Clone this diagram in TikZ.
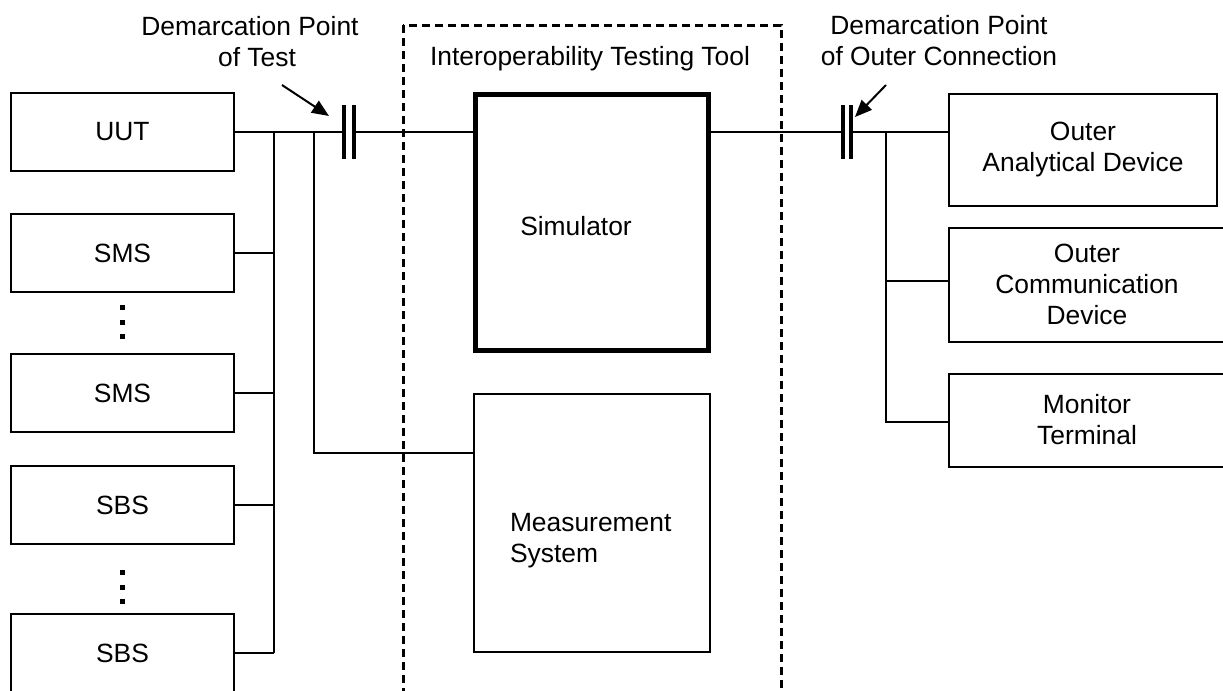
\documentclass[tikz,border=0pt]{standalone}
\usepackage{fontspec}
\setmainfont{Liberation Sans}
\usetikzlibrary{arrows.meta}
\tikzset{
  unit/.style={draw,line width=1pt,minimum width=111.5pt,minimum height=39pt,inner sep=0pt},
  device/.style={draw,line width=1pt,align=center,inner sep=0pt},
  txt/.style={inner sep=0pt,align=center},
  plate/.style={line width=2pt},
  pointer/.style={-{Triangle[length=8.5pt,width=7pt]},line width=1pt},
  frame/.style={line width=1.5pt,dash pattern=on 4pt off 2.5pt}
}

\begin{document}
\begin{tikzpicture}[x=0.5pt,y=-0.5pt,line width=1pt,font=\fontsize{13.2}{15.5}\selectfont]
  \clip (0,0) rectangle (1223,691);

  %units under test, left side
  \node[unit] (uut) at (122.5,132) {UUT};
  \node[unit] (sms1) at (122.5,253) {SMS};
  \node[unit] (sms2) at (122.5,393) {SMS};
  \node[unit] (sbs1) at (122.5,505) {SBS};
  \node[unit] (sbs2) at (122.5,653) {SBS};
  \foreach \y in {307,322,336,572,587,601} {
    \fill (119.5,\y-2.5) rectangle (124.5,\y+2.5);
  }

  %testing tool frame
  \draw[frame] (403,25) rectangle (781,720);
  \node[txt] (ittlabel) at (590,59) {Interoperability Testing Tool};
  \node[draw,line width=2.5pt,minimum width=116.5pt,minimum height=128pt,inner sep=0pt] (sim) at (592,222.5) {};
  \node[txt] (simlabel) at (576,226) {Simulator};
  \node[draw,minimum width=118pt,minimum height=129pt,inner sep=0pt] (meas) at (592,523) {};
  \node[txt,anchor=west,align=left] (measlabel) at (509,541) {Measurement\\System};

  %outer devices, right side
  \node[device,minimum width=134pt,minimum height=56pt] (oad) at (1083,149.5) {Outer\\Analytical Device};
  \node[device,minimum width=138pt,minimum height=57pt] (ocd) at (1087,284.5) {Outer\\Communication\\Device};
  \node[device,minimum width=138pt,minimum height=46.5pt] (mon) at (1087,420) {Monitor\\Terminal};

  %demarcation points
  \coordinate (capL1) at (344,132);
  \coordinate (capL2) at (354,132);
  \coordinate (capR1) at (843,132);
  \coordinate (capR2) at (851,132);
  \foreach \c in {capL1,capL2,capR1,capR2} {
    \draw[plate] (\c) ++(0,-27) -- ++(0,54);
  }
  \node[txt] (dptest) at (250,42) {Demarcation Point\\\hspace*{7pt}of Test};
  \node[txt] (dpouter) at (939,40.5) {Demarcation Point\\of Outer Connection};
  \coordinate (ptL) at (282,85);
  \coordinate (tipL) at (329,116);
  \coordinate (ptR) at (886,85);
  \coordinate (tipR) at (855,117);
  \draw[pointer] (ptL) -- (tipL);
  \draw[pointer] (ptR) -- (tipR);

  %wiring
  \coordinate (busL) at (274,132);
  \coordinate (tapM) at (314,132);
  \coordinate (measIn) at (473,453);
  \coordinate (busR) at (886,132);
  \coordinate (ocdIn) at ([yshift=2pt]ocd.west);
  \coordinate (monIn) at ([yshift=-1pt]mon.west);
  \draw (uut) -- (capL1);
  \draw (capL2) -- (capL2 -| sim.west);
  \draw (busL) -- (busL |- sbs2.east);
  \foreach \n in {sms1,sms2,sbs1,sbs2} {
    \draw (\n.east) -- (\n.east -| busL);
  }
  \draw (tapM) |- (measIn);
  \draw (sim.east |- capR1) -- (capR1);
  \draw (capR2) -- (capR2 -| oad.west);
  \draw (busR) |- (monIn);
  \draw (busR |- ocdIn) -- (ocdIn);
\end{tikzpicture}
\end{document}
